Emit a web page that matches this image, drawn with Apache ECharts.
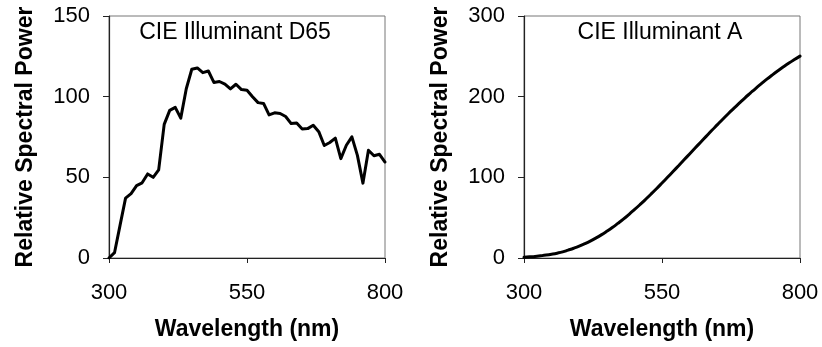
<!DOCTYPE html>
<html>
<head>
<meta charset="utf-8">
<script src="https://cdn.jsdelivr.net/npm/echarts@6/dist/echarts.min.js"></script>
<style>
  html, body { margin: 0; padding: 0; background: #fff; }
  #chart { width: 822px; height: 347px; }
</style>
</head>
<body>
<div id="chart"></div>
<script>
const wavelengths = [300, 310, 320, 330, 340, 350, 360, 370, 380, 390,
  400, 410, 420, 430, 440, 450, 460, 470, 480, 490,
  500, 510, 520, 530, 540, 550, 560, 570, 580, 590,
  600, 610, 620, 630, 640, 650, 660, 670, 680, 690,
  700, 710, 720, 730, 740, 750, 760, 770, 780, 790, 800]

// CIE D65, relative spectral power
const d65Values = [0.0, 3.3, 20.2, 37.1, 39.9, 44.9, 46.6, 52.1, 50.0, 54.6,
  82.8, 91.5, 93.4, 86.7, 104.9, 117.0, 117.8, 114.9, 115.9, 108.8,
  109.4, 107.8, 104.8, 107.7, 104.4, 104.0, 100.0, 96.3, 95.8, 88.7,
  90.0, 89.6, 87.7, 83.3, 83.7, 80.0, 80.2, 82.3, 78.3, 69.7,
  71.6, 74.3, 61.6, 69.9, 75.1, 63.6, 46.4, 66.8, 63.4, 64.3, 59.5]

// CIE A, relative spectral power
const aValues = [0.9, 1.4, 1.9, 2.7, 3.6, 4.7, 6.0, 7.6, 9.8, 12.1,
  14.7, 17.7, 21.0, 24.7, 28.7, 33.1, 37.8, 42.9, 48.2, 53.9,
  59.9, 66.1, 72.5, 79.1, 85.9, 92.9, 100.0, 107.2, 114.4, 121.7,
  129.0, 136.3, 143.6, 150.8, 158.0, 165.0, 172.0, 178.8, 185.4, 191.9,
  198.3, 204.4, 210.4, 216.1, 221.7, 227.0, 232.1, 237.0, 241.7, 246.1, 250.3]

const panelTitles = ['CIE Illuminant D65', 'CIE Illuminant A']
const yMax = [150, 300]
const yStep = [50, 100]

const font = 'Liberation Sans, Arial, sans-serif'

function pairs(xs, ys) {
  return xs.map((x, i) => [x, ys[i]])
}

function xAxisFor(gridIndex) {
  return {
    gridIndex: gridIndex,
    type: 'value',
    min: 300,
    max: 800,
    interval: 250,
    name: 'Wavelength (nm)',
    nameLocation: 'middle',
    nameGap: 60,
    nameTextStyle: { fontFamily: font, fontSize: 23, fontWeight: 'bold', color: '#000' },
    axisLine: { lineStyle: { color: '#222', width: 1.2 } },
    axisTick: { show: true, length: 5, lineStyle: { color: '#222' } },
    axisLabel: { fontFamily: font, fontSize: 22, color: '#000', margin: 24 },
    splitLine: { show: false }
  }
}

function yAxisFor(gridIndex) {
  return {
    gridIndex: gridIndex,
    type: 'value',
    min: 0,
    max: yMax[gridIndex],
    interval: yStep[gridIndex],
    name: 'Relative Spectral Power',
    nameLocation: 'middle',
    nameGap: 72,
    nameTextStyle: { fontFamily: font, fontSize: 23, fontWeight: 'bold', color: '#000' },
    axisLine: { show: true, lineStyle: { color: '#222', width: 1.2 } },
    axisTick: { show: true, length: 6, lineStyle: { color: '#222' } },
    axisLabel: { fontFamily: font, fontSize: 22, color: '#000', margin: 19 },
    splitLine: { show: false }
  }
}

const chart = echarts.init(document.getElementById('chart'))
chart.setOption({
  animation: false,
  backgroundColor: '#fff',
  grid: [
    { left: 109, top: 16, width: 276, height: 242, show: true, borderColor: '#777', borderWidth: 1 },
    { left: 524, top: 16, width: 276, height: 242, show: true, borderColor: '#777', borderWidth: 1 }
  ],
  xAxis: [xAxisFor(0), xAxisFor(1)],
  yAxis: [yAxisFor(0), yAxisFor(1)],
  graphic: [
    {
      type: 'text', x: 235, y: 33,
      style: { text: panelTitles[0], fontFamily: font, fontSize: 23, fill: '#000', textAlign: 'center', textVerticalAlign: 'middle' }
    },
    {
      type: 'text', x: 660, y: 33,
      style: { text: panelTitles[1], fontFamily: font, fontSize: 23, fill: '#000', textAlign: 'center', textVerticalAlign: 'middle' }
    }
  ],
  series: [
    {
      type: 'line', xAxisIndex: 0, yAxisIndex: 0,
      data: pairs(wavelengths, d65Values),
      showSymbol: false,
      lineStyle: { color: '#000', width: 3, join: 'round', cap: 'round' }
    },
    {
      type: 'line', xAxisIndex: 1, yAxisIndex: 1,
      data: pairs(wavelengths, aValues),
      showSymbol: false, smooth: true,
      lineStyle: { color: '#000', width: 3, cap: 'round' }
    }
  ]
})
</script>
</body>
</html>
